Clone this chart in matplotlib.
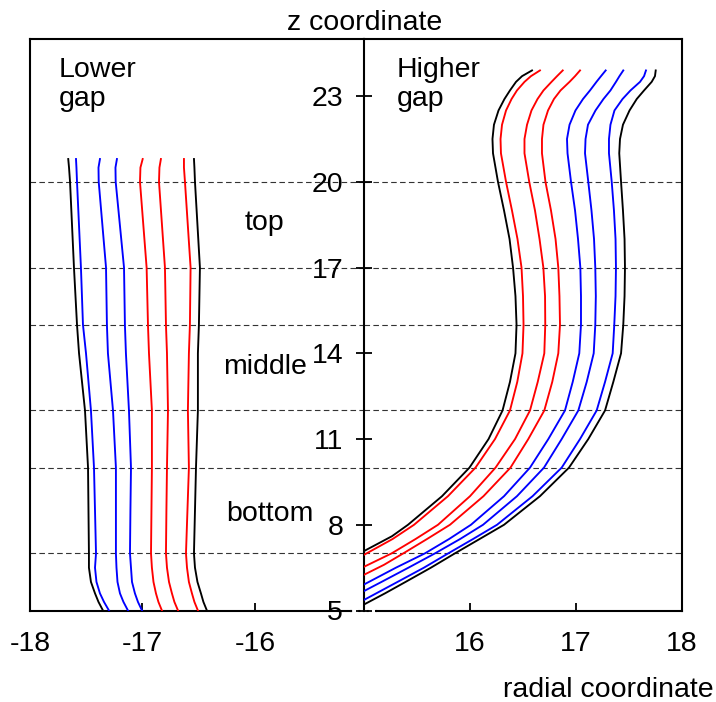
import matplotlib
matplotlib.use('Agg')
import matplotlib.pyplot as plt
from matplotlib.lines import Line2D

plt.rcParams['font.family'] = ['Liberation Sans', 'DejaVu Sans']
plt.rcParams['axes.unicode_minus'] = False

# ---- lower gap (left panel): radial position of each line vs z ----
lz = [5.0, 5.3, 5.6, 6.0, 6.5, 7.0, 8.5, 10.0, 12.0, 14.0, 15.0, 17.0, 20.0, 20.5, 20.8]
l_black1 = [-17.351, -17.391, -17.422, -17.458, -17.476, -17.476, -17.480, -17.484, -17.511, -17.564, -17.582, -17.609, -17.644, -17.653, -17.660]
l_blue1 = [-17.298, -17.342, -17.378, -17.409, -17.422, -17.413, -17.422, -17.431, -17.458, -17.502, -17.529, -17.547, -17.582, -17.587, -17.591]
l_blue2 = [-17.129, -17.169, -17.200, -17.222, -17.231, -17.236, -17.236, -17.236, -17.262, -17.307, -17.316, -17.324, -17.389, -17.391, -17.378]
l_blue3 = [-17.004, -17.040, -17.067, -17.093, -17.102, -17.111, -17.107, -17.102, -17.120, -17.147, -17.156, -17.164, -17.238, -17.240, -17.227]
l_red1 = [-16.827, -16.858, -16.880, -16.902, -16.916, -16.924, -16.920, -16.916, -16.916, -16.942, -16.951, -16.963, -17.022, -17.018, -16.998]
l_red2 = [-16.684, -16.716, -16.738, -16.764, -16.782, -16.791, -16.787, -16.782, -16.773, -16.782, -16.791, -16.800, -16.853, -16.849, -16.836]
l_red3 = [-16.507, -16.538, -16.560, -16.587, -16.604, -16.613, -16.600, -16.587, -16.596, -16.587, -16.578, -16.572, -16.622, -16.631, -16.631]
l_black2 = [-16.427, -16.458, -16.480, -16.511, -16.533, -16.542, -16.533, -16.524, -16.507, -16.507, -16.498, -16.489, -16.533, -16.538, -16.542]

# ---- higher gap (right panel): common upper part + own lower tail ----
rz = [23.9, 23.7, 23.5, 23.2, 22.9, 22.5, 22.0, 21.5, 21.0, 20.0, 19.0, 18.0,
      17.0, 16.0, 15.0, 14.0, 13.0, 12.0, 11.0, 10.0, 9.0, 8.0]
r_black1 = [16.585, 16.491, 16.434, 16.377, 16.325, 16.269, 16.226, 16.212, 16.217, 16.264, 16.321, 16.373,
            16.406, 16.429, 16.439, 16.429, 16.377, 16.307, 16.175, 15.995, 15.736, 15.415]
r_red1 = [16.660, 16.575, 16.514, 16.443, 16.392, 16.340, 16.302, 16.288, 16.292, 16.340, 16.396, 16.448,
          16.486, 16.500, 16.505, 16.495, 16.446, 16.377, 16.236, 16.052, 15.792, 15.472]
r_red2 = [16.875, 16.821, 16.769, 16.693, 16.637, 16.580, 16.538, 16.514, 16.514, 16.559, 16.613, 16.656,
          16.692, 16.708, 16.710, 16.701, 16.639, 16.566, 16.425, 16.241, 16.000, 15.698]
r_red3 = [17.038, 16.991, 16.939, 16.854, 16.792, 16.736, 16.693, 16.679, 16.679, 16.712, 16.764, 16.807,
          16.833, 16.844, 16.849, 16.833, 16.776, 16.701, 16.550, 16.382, 16.127, 15.811]
r_blue1 = [17.280, 17.236, 17.193, 17.132, 17.066, 16.995, 16.939, 16.915, 16.920, 16.953, 16.991, 17.019,
           17.041, 17.047, 17.047, 17.031, 16.969, 16.896, 16.739, 16.566, 16.321, 16.009]
r_blue2 = [17.446, 17.410, 17.377, 17.325, 17.259, 17.184, 17.113, 17.090, 17.085, 17.116, 17.146, 17.170,
           17.182, 17.187, 17.182, 17.167, 17.101, 17.022, 16.865, 16.698, 16.443, 16.123]
r_blue3 = [17.660, 17.642, 17.604, 17.514, 17.439, 17.363, 17.325, 17.311, 17.311, 17.337, 17.358, 17.373,
           17.377, 17.373, 17.361, 17.346, 17.274, 17.195, 17.038, 16.865, 16.590, 16.255]
r_black2 = [17.752, 17.745, 17.714, 17.642, 17.573, 17.505, 17.443, 17.415, 17.408, 17.425, 17.443, 17.458,
            17.462, 17.458, 17.446, 17.425, 17.352, 17.274, 17.116, 16.934, 16.660, 16.321]

# lower tails, down to where each line meets the axis
t_black1_z = [7.6, 7.08]
t_black1_x = [15.264, 15.0]
t_red1_z = [7.5, 7.0, 6.95]
t_red1_x = [15.269, 15.025, 15.0]
t_red2_z = [7.5, 7.0, 6.53]
t_red2_x = [15.486, 15.261, 15.0]
t_red3_z = [7.5, 7.0, 6.6, 6.25]
t_red3_x = [15.594, 15.371, 15.189, 15.0]
t_blue1_z = [7.5, 7.0, 6.5, 5.91]
t_blue1_x = [15.802, 15.575, 15.302, 15.0]
t_blue2_z = [7.5, 7.0, 6.5, 6.0, 5.68]
t_blue2_x = [15.906, 15.670, 15.420, 15.165, 15.0]
t_blue3_z = [7.5, 7.0, 6.5, 6.0, 5.37]
t_blue3_x = [16.028, 15.795, 15.566, 15.316, 15.0]
t_black2_z = [7.5, 7.0, 6.5, 6.0, 5.6, 5.21]
t_black2_x = [16.090, 15.858, 15.632, 15.392, 15.198, 15.0]

region_lines = [7, 10, 12, 15, 17, 20]
z_ticks = [5, 8, 11, 14, 17, 20, 23]

fs = 20.5
lw = 1.35

fig = plt.figure(figsize=(7.16, 7.02), dpi=100)
axL = fig.add_axes([30/716, 91.5/702, 334/716, 571.5/702])
axR = fig.add_axes([364/716, 91.5/702, 318/716, 571.5/702])

for ax in (axL, axR):
    ax.set_ylim(5, 25)
    for z in region_lines:
        ax.axhline(z, color='#333333', lw=0.8, ls=(0, (5, 3)), zorder=1)
    for s in ax.spines.values():
        s.set_linewidth(1.5)
    ax.tick_params(axis='x', direction='in', length=6, width=1.3, pad=15, labelsize=fs)

axL.set_xlim(-18, -15.03)
axL.set_xticks([-18, -17, -16])
axL.set_yticks([])
axL.spines['right'].set_visible(False)
axL.spines['bottom'].set_bounds(-18, -15.15)

for xs, c in [(l_black1, 'black'), (l_blue1, 'blue'), (l_blue2, 'blue'), (l_blue3, 'blue'),
              (l_red1, 'red'), (l_red2, 'red'), (l_red3, 'red'), (l_black2, 'black')]:
    axL.plot(xs, lz, color=c, lw=lw, zorder=3, solid_joinstyle='round')

axR.set_xlim(15, 18)
axR.set_xticks([16, 17, 18])
axR.set_yticks(z_ticks)
axR.yaxis.set_ticks_position('left')
axR.tick_params(axis='y', direction='inout', length=12, width=1.3, pad=9, labelsize=fs)
axR.spines['bottom'].set_bounds(15.12, 18)

for xs, tz, tx, c in [(r_black1, t_black1_z, t_black1_x, 'black'),
                      (r_red1, t_red1_z, t_red1_x, 'red'),
                      (r_red2, t_red2_z, t_red2_x, 'red'),
                      (r_red3, t_red3_z, t_red3_x, 'red'),
                      (r_blue1, t_blue1_z, t_blue1_x, 'blue'),
                      (r_blue2, t_blue2_z, t_blue2_x, 'blue'),
                      (r_blue3, t_blue3_z, t_blue3_x, 'blue'),
                      (r_black2, t_black2_z, t_black2_x, 'black')]:
    axR.plot(xs + tx, rz + tz, color=c, lw=lw, zorder=3, solid_joinstyle='round')

# dotted piece of the bottom line under the "5"
fig.add_artist(Line2D([350/716, 377/716], [91.5/702, 91.5/702], color='black', lw=1.5, ls=(0, (1, 3))))

axL.text(0.087, 0.968, 'Lower\ngap', transform=axL.transAxes, ha='left', va='top', fontsize=fs, linespacing=1.15)
axR.text(0.104, 0.968, 'Higher\ngap', transform=axR.transAxes, ha='left', va='top', fontsize=fs, linespacing=1.15)
axL.text(-15.916, 18.33, 'top', ha='center', va='baseline', fontsize=fs)
axL.text(-15.914, 13.27, 'middle', ha='center', va='baseline', fontsize=fs)
axL.text(-15.871, 8.13, 'bottom', ha='center', va='baseline', fontsize=fs)

fig.text(364.5/716, 1 - 30/702, 'z coordinate', ha='center', va='baseline', fontsize=fs)
fig.text(714/716, 1 - 697/702, 'radial coordinate', ha='right', va='baseline', fontsize=fs)

fig.savefig('out.png', dpi=100)
plt.close(fig)
